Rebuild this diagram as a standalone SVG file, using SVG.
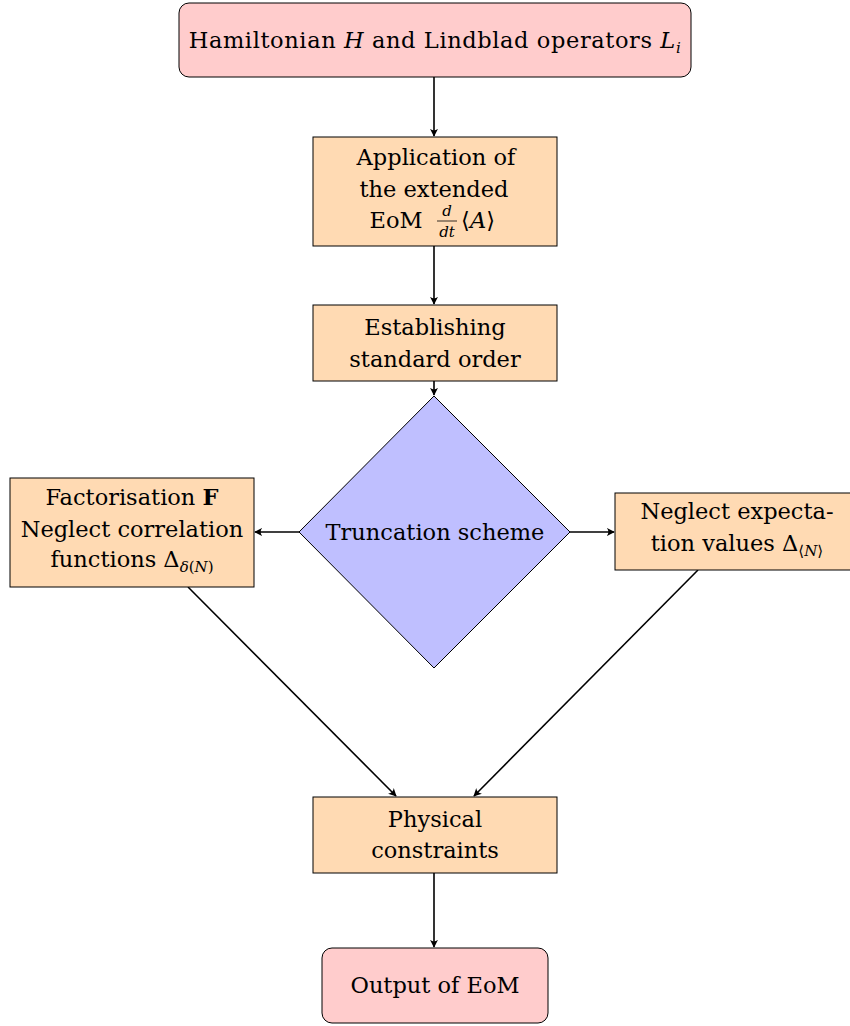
<svg xmlns="http://www.w3.org/2000/svg" width="850" height="1026" viewBox="0 0 850 1026">
<style>
.t{font-family:"DejaVu Serif","Liberation Serif",serif;font-size:22.5px;fill:#000;text-anchor:middle}
.m{font-style:italic}
.s{font-size:15px}
.pink{fill:#ffcccc;stroke:#000;stroke-width:1}
.peach{fill:#ffdab3;stroke:#000;stroke-width:1}
.blue{fill:#bfbfff;stroke:#000;stroke-width:1}
.c{fill:none;stroke:#000;stroke-width:1.6;marker-end:url(#ah)}
</style>
<defs>
<marker id="ah" viewBox="0 0 10 10" refX="9" refY="5" markerWidth="8" markerHeight="8" markerUnits="userSpaceOnUse" orient="auto">
<path d="M0,0 Q4,5 0,10 L10,5 Z" fill="#000"/>
</marker>
</defs>
<rect width="850" height="1026" fill="#fff"/>
<g id="connectors">
<line class="c" x1="434" y1="77" x2="434" y2="136"/>
<line class="c" x1="434" y1="246" x2="434" y2="304"/>
<line class="c" x1="434" y1="381" x2="434" y2="395"/>
<line class="c" x1="299" y1="532" x2="255" y2="532"/>
<line class="c" x1="570" y1="532" x2="614" y2="532"/>
<line class="c" x1="188" y1="587" x2="396" y2="796"/>
<line class="c" x1="698" y1="570" x2="474" y2="796"/>
<line class="c" x1="434" y1="873" x2="434" y2="947"/>
</g>
<g id="n_hamiltonian">
<rect class="pink" x="179" y="3" width="512" height="74" rx="10"/>
<text class="t" x="435" y="48" letter-spacing="0.6">Hamiltonian <tspan class="m">H</tspan> and Lindblad operators <tspan class="m">L</tspan><tspan class="m s" dy="5">i</tspan></text>
</g>
<g id="n_application">
<rect class="peach" x="313" y="137" width="244" height="109"/>
<text class="t" x="436" y="165">Application of</text>
<text class="t" x="434" y="197">the extended</text>
<text class="t" x="396" y="228">EoM</text>
<text class="t m s" x="447" y="216">d</text>
<line x1="437" y1="221" x2="457" y2="221" stroke="#000" stroke-width="0.8"/>
<text class="t m s" x="447" y="237">dt</text>
<text class="t" x="478" y="228">⟨<tspan class="m">A</tspan>⟩</text>
</g>
<g id="n_standard">
<rect class="peach" x="313" y="305" width="244" height="76"/>
<text class="t" x="435" y="335">Establishing</text>
<text class="t" x="435" y="367">standard order</text>
</g>
<g id="n_truncation">
<polygon class="blue" points="434,396 570,532 434,668 299,532"/>
<text class="t" x="435" y="540">Truncation scheme</text>
</g>
<g id="n_factorisation">
<rect class="peach" x="10" y="478" width="244" height="109"/>
<text class="t" x="132" y="505">Factorisation <tspan font-weight="bold">F</tspan></text>
<text class="t" x="132" y="537">Neglect correlation</text>
<text class="t" x="132" y="567">functions Δ<tspan class="m s" dy="5">δ</tspan><tspan class="s">(</tspan><tspan class="m s">N</tspan><tspan class="s">)</tspan></text>
</g>
<g id="n_expectation">
<rect class="peach" x="615" y="493" width="244" height="77"/>
<text class="t" x="737" y="519">Neglect expecta-</text>
<text class="t" x="737" y="551">tion values Δ<tspan class="s" dy="5">⟨</tspan><tspan class="m s">N</tspan><tspan class="s">⟩</tspan></text>
</g>
<g id="n_physical">
<rect class="peach" x="313" y="797" width="244" height="76"/>
<text class="t" x="435" y="827">Physical</text>
<text class="t" x="435" y="858">constraints</text>
</g>
<g id="n_output">
<rect class="pink" x="322" y="948" width="226" height="75" rx="10"/>
<text class="t" x="435" y="993">Output of EoM</text>
</g>
</svg>
